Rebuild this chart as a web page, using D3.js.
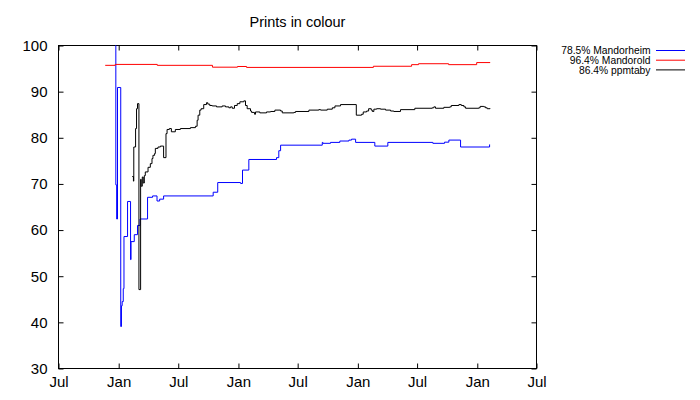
<!DOCTYPE html>
<html>
<head>
<meta charset="utf-8">
<script src="https://cdn.jsdelivr.net/npm/d3@7"></script>
<style>
  html, body { margin: 0; padding: 0; background: #fff; }
  svg { display: block; font-family: "Liberation Sans", Arial, sans-serif; }
</style>
</head>
<body>
<svg id="chart" width="700" height="400"></svg>
<script>
// ---- data (time as decimal year, value in %) ----
const title = "Prints in colour";
const seriesNames = ["Mandorheim", "Mandorold", "ppmtaby"];
const legendLabels = ["78.5% Mandorheim", "96.4% Mandorold", "86.4% ppmtaby"];
const seriesColors = ["#0000ff", "#ff0000", "#000000"];
const yTicks = [30, 40, 50, 60, 70, 80, 90, 100];
const xDomain = ["2011-07-01", "2015-07-01"];

const mandorheim = [
  [2011.973,100],[2011.976,69.8],[2011.983,62.4],[2011.990,90.9],[2012.017,39.1],
  [2012.023,43.6],[2012.029,44.5],[2012.038,47.3],[2012.044,58.6],[2012.074,66.2],
  [2012.099,53.6],[2012.103,57.5],[2012.130,59.0],[2012.157,61.0],[2012.178,62.4],
  [2012.241,67.1],[2012.283,67.4],[2012.320,66.3],[2012.342,66.7],[2012.375,67.4],
  [2012.789,68.2],[2012.827,70.3],[2013.018,70.1],[2013.034,73.0],[2013.087,75.3],
  [2013.319,75.7],[2013.338,77.2],[2013.353,78.4],[2013.702,79.0],[2013.707,78.8],
  [2013.771,79.0],[2013.849,79.3],[2013.925,79.5],[2013.947,79.7],[2013.981,79.0],
  [2014.142,78.2],[2014.251,79.0],[2014.628,78.8],[2014.726,79.05],[2014.762,79.5],
  [2014.860,78.0],[2015.103,78.5],[2015.107,78.5]
];

const mandorold = [
  [2011.887,95.7],[2011.971,95.9],[2012.322,95.7],[2012.783,95.3],[2012.992,95.45],
  [2013.068,95.25],[2014.130,95.5],[2014.450,95.85],[2014.508,96.05],[2014.760,95.85],
  [2014.995,96.3],[2015.107,96.35]
];

const ppmtaby = [
  [2012.113,71.6],[2012.123,70.6],[2012.126,78.0],[2012.141,82.0],[2012.149,86.3],
  [2012.157,87.4],[2012.169,47.1],[2012.183,71.0],[2012.188,69.5],[2012.197,71.5],
  [2012.205,70.2],[2012.214,71.8],[2012.222,72.6],[2012.245,73.6],[2012.264,74.4],
  [2012.278,75.5],[2012.286,76.2],[2012.300,76.6],[2012.306,77.7],[2012.328,78.0],
  [2012.348,78.2],[2012.375,75.7],[2012.395,80.9],[2012.404,81.8],[2012.423,82.0],
  [2012.440,81.3],[2012.473,81.8],[2012.515,82.0],[2012.599,82.2],[2012.641,82.5],
  [2012.655,83.8],[2012.663,84.9],[2012.677,86.0],[2012.688,86.3],[2012.710,87.2],
  [2012.733,87.6],[2012.744,87.3],[2012.760,87.0],[2012.781,86.9],[2012.817,86.7],
  [2012.864,86.9],[2012.892,86.7],[2012.920,86.5],[2012.934,86.7],[2012.948,86.4],
  [2012.967,87.0],[2012.990,87.4],[2013.012,87.8],[2013.045,88.0],[2013.059,87.0],
  [2013.073,86.3],[2013.101,85.8],[2013.110,85.5],[2013.135,85.1],[2013.143,85.6],
  [2013.179,85.4],[2013.235,85.6],[2013.269,85.7],[2013.305,86.0],[2013.353,85.8],
  [2013.367,85.4],[2013.464,85.5],[2013.478,85.7],[2013.590,86.0],[2013.673,86.1],
  [2013.688,86.0],[2013.744,86.2],[2013.786,86.5],[2013.808,86.9],[2013.855,87.2],
  [2013.987,84.9],[2014.031,85.1],[2014.045,85.6],[2014.073,85.8],[2014.090,86.3],
  [2014.112,86.0],[2014.121,85.7],[2014.134,86.2],[2014.157,86.3],[2014.190,86.2],
  [2014.232,86.0],[2014.274,85.8],[2014.301,85.7],[2014.357,86.1],[2014.477,86.4],
  [2014.623,86.5],[2014.636,86.7],[2014.650,86.4],[2014.720,86.6],[2014.770,86.7],
  [2014.782,87.0],[2014.846,87.2],[2014.866,87.0],[2014.888,86.7],[2014.902,86.4],
  [2015.013,86.5],[2015.024,86.8],[2015.055,86.7],[2015.069,86.5],[2015.083,86.3],
  [2015.107,86.4]
];

// ---- rendering ----
function fromYear(t) {
  const yr = Math.floor(t);
  const a = new Date(yr, 0, 1), b = new Date(yr + 1, 0, 1);
  return new Date(+a + (t - yr) * (b - a));
}
const parse = d3.timeParse("%Y-%m-%d");

const svg = d3.select("#chart");
const L = 58.5, R = 536.5, T = 45.5, B = 368.5;

const x = d3.scaleTime().domain(xDomain.map(parse)).range([L, R]);
const y = d3.scaleLinear().domain([30, 100]).range([B, T]);

const xTickVals = d3.timeMonth.every(6).range(parse(xDomain[0]), d3.timeDay.offset(parse(xDomain[1]), 1));
const fmt = d3.timeFormat("%b");
const fontSize = 15;

// Left axis
const gl = svg.append("g").attr("transform", `translate(${L},0)`)
  .call(d3.axisLeft(y).tickValues(yTicks).tickSize(-5).tickPadding(11));
// Right axis (ticks only)
const gr = svg.append("g").attr("transform", `translate(${R},0)`)
  .call(d3.axisRight(y).tickValues(yTicks).tickSize(-5).tickFormat(""));
// Bottom axis
const gb = svg.append("g").attr("transform", `translate(0,${B})`)
  .call(d3.axisBottom(x).tickValues(xTickVals).tickFormat(fmt).tickSize(-5).tickPadding(8));
// Top axis (ticks only)
const gt = svg.append("g").attr("transform", `translate(0,${T})`)
  .call(d3.axisTop(x).tickValues(xTickVals).tickSize(-5).tickFormat(""));

[gl, gr, gb, gt].forEach(g => {
  g.select(".domain").remove();
  g.selectAll("line").attr("stroke", "#000");
  g.selectAll("text").attr("fill", "#000").style("font-size", fontSize + "px")
    .style("font-family", '"Liberation Sans", Arial, sans-serif');
});

// Frame
svg.append("rect").attr("x", L).attr("y", T).attr("width", R - L).attr("height", B - T)
  .attr("fill", "none").attr("stroke", "#000").attr("stroke-width", 1);

// Clip
svg.append("clipPath").attr("id", "clip").append("rect")
  .attr("x", L).attr("y", T - 0.5).attr("width", R - L).attr("height", B - T + 1);

const line = d3.line()
  .x(d => x(fromYear(d[0])))
  .y(d => y(d[1]))
  .curve(d3.curveStepAfter);

const allSeries = [mandorheim, mandorold, ppmtaby];
const plot = svg.append("g").attr("clip-path", "url(#clip)");
allSeries.forEach((s, i) => {
  plot.append("path").datum(s)
    .attr("d", line)
    .attr("fill", "none")
    .attr("stroke", seriesColors[i])
    .attr("stroke-width", 1);
});

// Title
svg.append("text").attr("x", (L + R) / 2).attr("y", 27)
  .attr("text-anchor", "middle").attr("fill", "#000")
  .style("font-size", "14.5px").text(title);

// Legend
const lg = svg.append("g");
legendLabels.forEach((lab, i) => {
  const yy = 50.5 + i * 9.7;
  lg.append("text").attr("x", 650.5).attr("y", yy).attr("dy", "0.35em")
    .attr("text-anchor", "end").attr("fill", "#000")
    .style("font-size", "10.3px").text(lab);
  lg.append("line").attr("x1", 656).attr("x2", 685).attr("y1", yy).attr("y2", yy)
    .attr("stroke", seriesColors[i]).attr("stroke-width", 1);
});
</script>
</body>
</html>
